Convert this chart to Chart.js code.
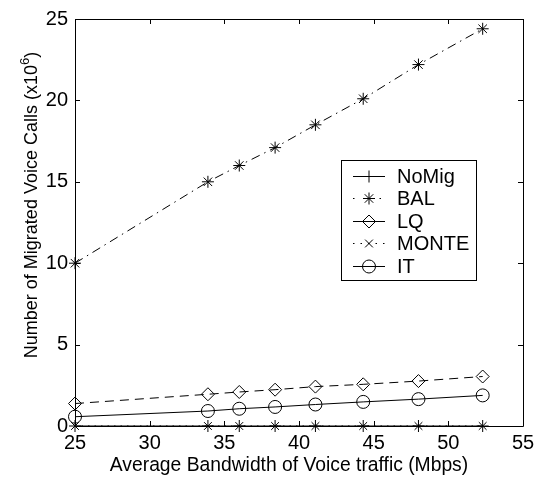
<!DOCTYPE html>
<html>
<head>
<meta charset="utf-8">
<script src="https://cdn.jsdelivr.net/npm/chart.js@4/dist/chart.umd.min.js"></script>
<style>
  html, body { margin: 0; padding: 0; background: #fff; }
  #wrap { width: 544px; height: 483px; }
</style>
</head>
<body>
<div id="wrap"><canvas id="c" width="544" height="483"></canvas></div>
<script>
// Average bandwidth of voice traffic (Mbps)
const bandwidth = [25, 33.9, 36.0, 38.4, 41.1, 44.3, 48.0, 52.3];
// Migrated voice calls (x10^6) per scheme
const noMig = [0, 0, 0, 0, 0, 0, 0, 0];
const bal   = [10, 15.0, 16.0, 17.1, 18.5, 20.1, 22.2, 24.4];
const lq    = [1.38, 1.95, 2.09, 2.23, 2.42, 2.56, 2.76, 3.04];
const monte = [0, 0, 0, 0, 0, 0, 0, 0];
const it    = [0.57, 0.92, 1.06, 1.17, 1.32, 1.48, 1.65, 1.88];

const seriesNames = ['NoMig', 'BAL', 'LQ', 'MONTE', 'IT'];
const xTicks = [25, 30, 35, 40, 45, 50, 55];
const yTicks = [0, 5, 10, 15, 20, 25];

const FONT = '"Liberation Sans", Arial, Helvetica, sans-serif';

function pts(ys) { return bandwidth.map((x, i) => ({ x: x, y: ys[i] })); }

function series(label, ys, style, radius, dash, legendDash) {
  return {
    label: label,
    data: pts(ys),
    borderColor: '#000',
    backgroundColor: 'rgba(0,0,0,0)',
    borderWidth: 1,
    borderDash: dash,
    legendDash: legendDash,
    pointStyle: style,
    pointRadius: radius,
    pointHoverRadius: radius,
    pointBorderColor: '#000',
    pointBackgroundColor: 'rgba(0,0,0,0)',
    pointBorderWidth: 1,
    tension: 0,
    fill: false,
    clip: false
  };
}

// Axis box with inward tick marks on all four sides
const framePlugin = {
  id: 'frame',
  beforeDatasetsDraw(chart) {
    const { ctx, chartArea: a, scales } = chart;
    ctx.save();
    ctx.strokeStyle = '#000';
    ctx.lineWidth = 1;
    ctx.beginPath();
    ctx.rect(Math.round(a.left) + 0.5, Math.round(a.top) + 0.5,
             Math.round(a.right - a.left), Math.round(a.bottom - a.top));
    ctx.stroke();
    const tl = 5;
    ctx.beginPath();
    xTicks.forEach(v => {
      const px = Math.round(scales.x.getPixelForValue(v)) + 0.5;
      ctx.moveTo(px, a.bottom); ctx.lineTo(px, a.bottom - tl);
      ctx.moveTo(px, a.top); ctx.lineTo(px, a.top + tl);
    });
    yTicks.forEach(v => {
      const py = Math.round(scales.y.getPixelForValue(v)) + 0.5;
      ctx.moveTo(a.left, py); ctx.lineTo(a.left + tl, py);
      ctx.moveTo(a.right, py); ctx.lineTo(a.right - tl, py);
    });
    ctx.stroke();
    ctx.restore();
  }
};

// Axis titles (y title carries a raised exponent)
const titlePlugin = {
  id: 'titles',
  afterDraw(chart) {
    const { ctx } = chart;
    ctx.save();
    ctx.fillStyle = '#000';
    ctx.font = '19.3px ' + FONT;
    ctx.textAlign = 'center';
    ctx.textBaseline = 'middle';
    ctx.fillText('Average Bandwidth of Voice traffic (Mbps)', 289, 466);

    const main = 'Number of Migrated Voice Calls (x10';
    const sup = '6';
    const tail = ')';
    ctx.font = '18px ' + FONT;
    const w1 = ctx.measureText(main).width;
    const w3 = ctx.measureText(tail).width;
    ctx.font = '13px ' + FONT;
    const w2 = ctx.measureText(sup).width;
    const total = w1 + w2 + w3;
    ctx.translate(37, 205);
    ctx.rotate(-Math.PI / 2);
    ctx.textAlign = 'left';
    ctx.textBaseline = 'alphabetic';
    const x0 = -total / 2;
    ctx.font = '18px ' + FONT;
    ctx.fillText(main, x0, 0);
    ctx.font = '13px ' + FONT;
    ctx.fillText(sup, x0 + w1, -8);
    ctx.font = '18px ' + FONT;
    ctx.fillText(tail, x0 + w1 + w2, 0);
    ctx.restore();
  }
};

// Boxed legend with line sample and marker for each series
const legendPlugin = {
  id: 'boxLegend',
  afterDatasetsDraw(chart) {
    const { ctx } = chart;
    const bx = 341, by = 160, bw = 135, bh = 120;
    ctx.save();
    ctx.fillStyle = '#fff';
    ctx.fillRect(bx, by, bw, bh);
    ctx.strokeStyle = '#000';
    ctx.lineWidth = 1;
    ctx.strokeRect(bx + 0.5, by + 0.5, bw, bh);
    chart.data.datasets.forEach((ds, i) => {
      const cy = Math.round(by + 15.5 + i * 22.5) + 0.5;
      const x1 = 353, x2 = 385, cx = 369;
      ctx.strokeStyle = '#000';
      ctx.lineWidth = 1;
      ctx.setLineDash(ds.legendDash || []);
      ctx.beginPath();
      ctx.moveTo(x1, cy); ctx.lineTo(x2, cy);
      ctx.stroke();
      ctx.setLineDash([]);
      ctx.fillStyle = 'rgba(0,0,0,0)';
      Chart.helpers.drawPoint(ctx, {
        pointStyle: ds.pointStyle,
        radius: ds.pointRadius,
        rotation: 0,
        borderWidth: 1
      }, cx, cy);
      ctx.fillStyle = '#000';
      ctx.font = '20px ' + FONT;
      ctx.textAlign = 'left';
      ctx.textBaseline = 'middle';
      ctx.fillText(ds.label, 397, cy + 1);
    });
    ctx.restore();
  }
};

new Chart(document.getElementById('c'), {
  type: 'line',
  data: {
    datasets: [
      series(seriesNames[0], noMig, 'cross', 6, [], []),
      series(seriesNames[1], bal, 'star', 6, [9, 5, 1.5, 5], [1.5, 25]),
      series(seriesNames[2], lq, 'rectRot', 6.5, [9, 6], []),
      series(seriesNames[3], monte, 'crossRot', 5.5, [1.5, 5], [1.5, 6]),
      series(seriesNames[4], it, 'circle', 6.5, [], [])
    ]
  },
  options: {
    responsive: false,
    devicePixelRatio: 1,
    animation: false,
    events: [],
    layout: { padding: { top: 15, right: 21, left: 0, bottom: 0 } },
    plugins: { legend: { display: false }, tooltip: { enabled: false } },
    scales: {
      x: {
        type: 'linear',
        min: 25, max: 55,
        afterFit(s) { s.height = 57; },
        afterBuildTicks(s) { s.ticks = xTicks.map(v => ({ value: v })); },
        grid: { display: false, drawTicks: false },
        border: { display: false },
        ticks: { color: '#000', font: { family: FONT, size: 20 }, padding: 5, maxRotation: 0, autoSkip: false }
      },
      y: {
        type: 'linear',
        min: 0, max: 25,
        afterFit(s) { s.width = 75; },
        afterBuildTicks(s) { s.ticks = yTicks.map(v => ({ value: v })); },
        grid: { display: false, drawTicks: false },
        border: { display: false },
        ticks: { color: '#000', font: { family: FONT, size: 20 }, padding: 7 }
      }
    }
  },
  plugins: [framePlugin, legendPlugin, titlePlugin]
});
</script>
</body>
</html>
